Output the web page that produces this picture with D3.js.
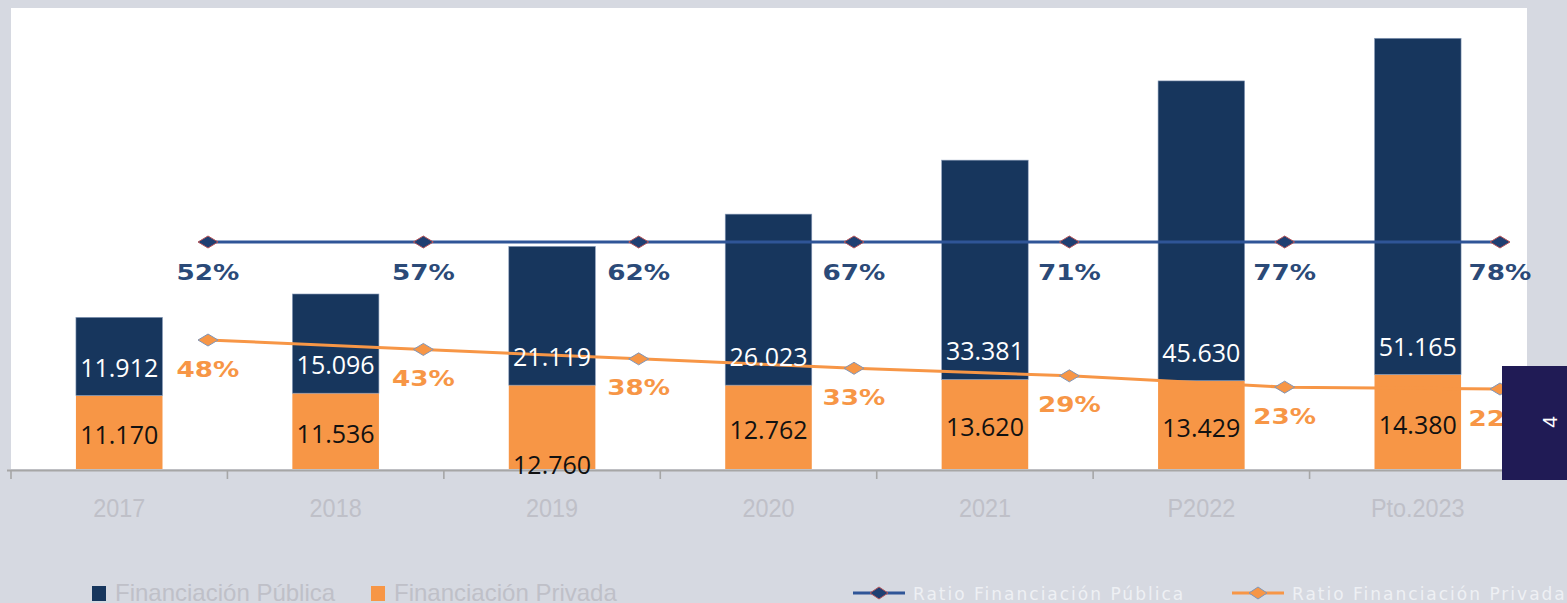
<!DOCTYPE html>
<html>
<head>
<meta charset="utf-8">
<script src="https://cdn.jsdelivr.net/npm/d3@7/dist/d3.min.js"></script>
<style>
  html, body { margin: 0; padding: 0; background: #d6d9e1; }
  svg { display: block; }
</style>
</head>
<body>
<svg id="chart" width="1567" height="603"></svg>
<script>
// ---- data ----
const categories = ["2017", "2018", "2019", "2020", "2021", "P2022", "Pto.2023"];
const financiacionPublica = [11912, 15096, 21119, 26023, 33381, 45630, 51165];
const financiacionPrivada = [11170, 11536, 12760, 12762, 13620, 13429, 14380];
const ratioPublica = [52, 57, 62, 67, 71, 77, 78];
const ratioPrivada = [48, 43, 38, 33, 29, 23, 22];
const seriesNames = ["Financiación Pública", "Financiación Privada", "Ratio Financiación Pública", "Ratio Financiación Privada"];
const pageNumber = "4";

// ---- styles ----
const C = {
  bg: "#d6d9e1", panel: "#ffffff", navy: "#17365d", orange: "#f79646",
  line1: "#2f5597", line2: "#f79646", pct1: "#2b4a78", pct2: "#f79646",
  axis: "#a6a6a6", faint: "#bfc0c8", box: "#201b55"
};

const locale = d3.formatLocale({decimal: ",", thousands: ".", grouping: [3], currency: ["", "€"]});
const fmt = locale.format(",d");

const svg = d3.select("#chart");

// background panel
svg.append("rect").attr("x", 0).attr("y", 0).attr("width", 1567).attr("height", 603).attr("fill", C.bg);
svg.append("rect").attr("x", 11).attr("y", 8).attr("width", 1516).attr("height", 461).attr("fill", C.panel);

// ---- scales ----
const x = d3.scaleBand().domain(categories).range([11, 1526]).paddingInner(0.6).paddingOuter(0.3);
const y = d3.scaleLinear().domain([0, 70000]).range([469, 9]);
const xr = d3.scalePoint().domain(categories).range([208, 1500]);
const yr = d3.scaleLinear().domain([0, 100]).range([430.5, 242]);

// stacked bars
const rows = categories.map((c, i) => ({cat: c, priv: financiacionPrivada[i], pub: financiacionPublica[i]}));
const stack = d3.stack().keys(["priv", "pub"])(rows);
const colors = {priv: C.orange, pub: C.navy};

const gBars = svg.append("g");
stack.forEach(layer => {
  gBars.selectAll(null).data(layer).join("rect")
    .attr("x", d => x(d.data.cat))
    .attr("y", d => y(d[1]))
    .attr("width", x.bandwidth())
    .attr("height", d => y(d[0]) - y(d[1]))
    .attr("fill", colors[layer.key])
    .attr("stroke", layer.key === "pub" ? "#8ea0bd" : "none")
    .attr("stroke-width", 0.6);
});

// axis line and ticks
const step = x.step();
const bounds = categories.map(c => x(c) - step * x.paddingInner() / 2).concat([x.range()[1]]);
svg.append("line").attr("x1", 7).attr("x2", 1526).attr("y1", 470.5).attr("y2", 470.5)
  .attr("stroke", C.axis).attr("stroke-width", 2);
svg.selectAll(".tick").data(bounds).join("line")
  .attr("x1", d => Math.max(d, 8)).attr("x2", d => Math.max(d, 8))
  .attr("y1", 470).attr("y2", 479).attr("stroke", C.axis).attr("stroke-width", 1.6);

function stretch(sel, f) {
  sel.each(function () {
    const w = this.getComputedTextLength();
    d3.select(this).attr("textLength", w * f).attr("lengthAdjust", "spacingAndGlyphs");
  });
}

// category labels
svg.append("g").selectAll("text").data(categories).join("text")
  .attr("x", d => x(d) + x.bandwidth() / 2)
  .attr("y", 517)
  .attr("text-anchor", "middle")
  .attr("font-family", "Liberation Sans, Arial, sans-serif")
  .attr("font-size", 26)
  .attr("fill", C.faint)
  .text(d => d)
  .call(stretch, 0.9);

// stacked ratio lines
const rrows = categories.map((c, i) => ({cat: c, priv: ratioPrivada[i], pub: ratioPublica[i]}));
const rstack = d3.stack().keys(["priv", "pub"])(rrows);
const lineGen = d3.line().x(d => xr(d.data.cat)).y(d => yr(d[1]));

const lineStyles = {
  pub: {stroke: C.line1, fill: "#1f3f72", mstroke: "#b5555a"},
  priv: {stroke: C.line2, fill: C.orange, mstroke: "#8096b8"}
};
const diamond = (cx, cy, w, h) => `M${cx - w / 2},${cy}L${cx},${cy - h / 2}L${cx + w / 2},${cy}L${cx},${cy + h / 2}Z`;

["pub", "priv"].forEach(k => {
  const layer = rstack.find(l => l.key === k);
  const st = lineStyles[k];
  svg.append("path").datum(layer).attr("d", lineGen)
    .attr("fill", "none").attr("stroke", st.stroke).attr("stroke-width", 3);
  svg.append("g").selectAll("path").data(layer).join("path")
    .attr("d", d => diamond(xr(d.data.cat), yr(d[1]), 20, 12))
    .attr("fill", st.fill).attr("stroke", st.mstroke).attr("stroke-width", 1);
});

// bar value labels
const gLab = svg.append("g").attr("font-family", "Open Sans, sans-serif").attr("font-size", 25);
gLab.selectAll(".pub").data(rows).join("text")
  .attr("x", d => x(d.cat) + x.bandwidth() / 2)
  .attr("y", d => y(d.priv) - 28 + 9)
  .attr("text-anchor", "middle").attr("fill", "#ffffff")
  .text(d => fmt(d.pub));
gLab.selectAll(".priv").data(rows).join("text")
  .attr("x", d => x(d.cat) + x.bandwidth() / 2)
  .attr("y", d => (d.cat === "2019" ? y(0) - 4 : (y(0) + y(d.priv)) / 2 + 3) + 9)
  .attr("text-anchor", "middle").attr("fill", "#111111")
  .text(d => fmt(d.priv));

// ratio labels
const gPct = svg.append("g").attr("font-family", "DejaVu Sans, Verdana, sans-serif")
  .attr("font-weight", "bold").attr("font-size", 21);
const rsPub = rstack.find(l => l.key === "pub");
const rsPriv = rstack.find(l => l.key === "priv");
gPct.selectAll(".p1").data(rsPub).join("text")
  .attr("x", d => xr(d.data.cat)).attr("y", d => yr(d[1]) + 30 + 7.5)
  .attr("text-anchor", "middle").attr("fill", C.pct1)
  .text(d => d.data.pub + "%").call(stretch, 1.25);
gPct.selectAll(".p2").data(rsPriv).join("text")
  .attr("x", d => xr(d.data.cat)).attr("y", d => yr(d[1]) + 29 + 7.5)
  .attr("text-anchor", "middle").attr("fill", C.pct2)
  .text(d => d.data.priv + "%").call(stretch, 1.25);

// legend
const lg = svg.append("g");
const leg1 = [{name: seriesNames[0], color: C.navy, x: 92}, {name: seriesNames[1], color: C.orange, x: 371}];
leg1.forEach(l => {
  lg.append("rect").attr("x", l.x).attr("y", 586).attr("width", 14).attr("height", 15).attr("fill", l.color);
  lg.append("text").attr("x", l.x + 23).attr("y", 601)
    .attr("font-family", "Liberation Sans, Arial, sans-serif").attr("font-size", 24)
    .attr("fill", C.faint).text(l.name).call(stretch, 1.0);
});
const leg2 = [
  {name: seriesNames[2], st: lineStyles.pub, x: 853},
  {name: seriesNames[3], st: lineStyles.priv, x: 1232}
];
leg2.forEach(l => {
  lg.append("line").attr("x1", l.x).attr("x2", l.x + 52).attr("y1", 593).attr("y2", 593)
    .attr("stroke", l.st.stroke).attr("stroke-width", 3);
  lg.append("path").attr("d", diamond(l.x + 26, 593, 18, 12))
    .attr("fill", l.st.fill).attr("stroke", l.st.mstroke).attr("stroke-width", 1);
  lg.append("text").attr("x", l.x + 60).attr("y", 600)
    .attr("font-family", "DejaVu Sans, Verdana, sans-serif").attr("font-size", 17)
    .attr("letter-spacing", 2).attr("fill", "#eef0f4").text(l.name);
});

// page number box
svg.append("rect").attr("x", 1502).attr("y", 366).attr("width", 65).attr("height", 114).attr("fill", C.box);
svg.append("text").attr("transform", "translate(1550,422) rotate(-90)")
  .attr("text-anchor", "middle").attr("dy", "0.35em")
  .attr("font-family", "Liberation Sans, Arial, sans-serif").attr("font-size", 21)
  .attr("fill", "#ffffff").text(pageNumber);
</script>
</body>
</html>
